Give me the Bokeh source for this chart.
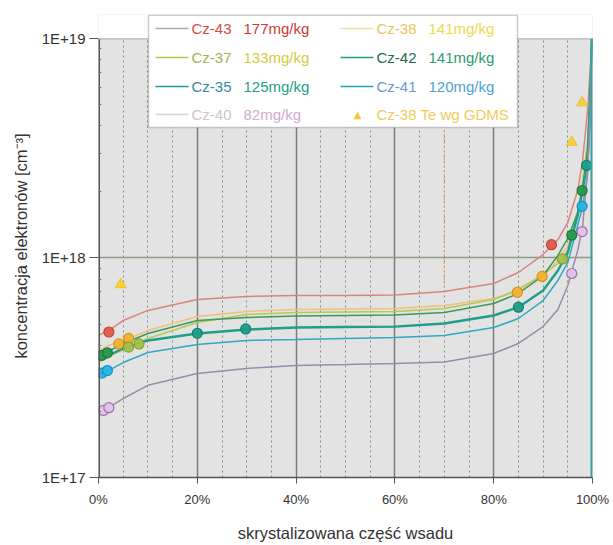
from bokeh.plotting import figure
from bokeh.models import (FixedTicker, CustomJSTickFormatter, Label,
                          BoxAnnotation, Range1d)
from bokeh.embed import file_html
from bokeh.resources import INLINE

E17 = 1e17  # values below are given in units of 1E+17 cm^-3

# fitted curves: crystallised fraction [%] -> electron concentration
fit_x = [0, 2, 5, 10, 20, 30, 40, 50, 60, 70, 80, 85, 90, 93, 95, 97, 98, 99, 99.5, 99.9]
fit_cz43 = [4.44, 4.67, 5.19, 5.77, 6.47, 6.68, 6.75, 6.75, 6.78, 7.04, 7.65, 8.59, 10.37, 12.14, 14.51, 20.3, 27.8, 47.0, 70.0, 100]
fit_cz38 = [3.79, 3.99, 4.21, 4.67, 5.41, 5.71, 5.83, 5.86, 5.89, 6.08, 6.54, 7.04, 8.24, 9.74, 11.4, 16.46, 22.55, 34.3, 58.0, 100]
fit_cz37 = [3.34, 3.56, 3.83, 4.30, 5.08, 5.53, 5.65, 5.68, 5.71, 5.89, 6.47, 7.19, 8.41, 9.44, 10.82, 15.79, 21.62, 33.2, 56.8, 100]
fit_cz42 = [3.52, 3.75, 4.08, 4.53, 5.19, 5.36, 5.44, 5.47, 5.50, 5.65, 6.20, 6.89, 8.32, 10.27, 12.27, 16.12, 20.73, 30.9, 55.0, 100]
fit_cz35 = [3.41, 3.60, 3.87, 4.21, 4.53, 4.72, 4.82, 4.85, 4.87, 5.03, 5.47, 5.97, 7.11, 8.77, 10.59, 15.62, 20.3, 27.8, 52.2, 100]
fit_cz41 = [2.95, 3.07, 3.34, 3.71, 4.04, 4.21, 4.25, 4.30, 4.34, 4.44, 4.82, 5.30, 6.40, 7.90, 9.54, 14.06, 17.17, 23.8, 47.0, 100]
fit_cz40 = [1.98, 2.08, 2.29, 2.63, 2.98, 3.14, 3.24, 3.27, 3.31, 3.36, 3.67, 4.08, 4.87, 5.83, 7.49, 10.82, 13.9, 25.0, 42.3, 100]

# measured points
pts_cz43_x = [2.1, 91.7]
pts_cz43_y = [4.60, 11.5]
pts_cz38_x = [4.1, 6.1, 84.8, 89.8]
pts_cz38_y = [4.06, 4.30, 6.98, 8.24]
pts_cz37_x = [6.1, 8.2, 93.9]
pts_cz37_y = [3.93, 4.06, 9.9]
pts_cz42_x = [0.7, 1.8, 95.8, 97.9]
pts_cz42_y = [3.60, 3.70, 12.7, 20.3]
pts_cz35_x = [20.0, 29.8, 85.0, 98.8]
pts_cz35_y = [4.54, 4.75, 5.97, 26.4]
pts_cz41_x = [0.7, 1.8, 97.9]
pts_cz41_y = [2.99, 3.07, 17.2]
pts_cz40_x = [1.0, 2.1, 95.8, 97.9]
pts_cz40_y = [2.02, 2.08, 8.5, 13.2]
gdms_x = [4.5, 95.8, 97.9]
gdms_y = [7.57, 33.7, 51.0]

# guide line at 70 %
guide_x = [70, 70]
guide_y = [7.0, 100]

x_ticks = [0, 20, 40, 60, 80, 100]
y_ticks = [1e17, 1e18, 1e19]
y_lo, y_hi = 1e17, 1e19
# the frame reaches a little above 1E+19 so the legend box can overhang the plot
y_frame_top = 10 ** 19.1093

FONT = "Liberation Sans"

p = figure(width=613, height=545, x_range=Range1d(0, 100), y_range=Range1d(y_lo, y_frame_top),
           y_axis_type="log", output_backend="svg", toolbar_location=None,
           min_border_left=98, min_border_right=21, min_border_top=14, min_border_bottom=68)
p.background_fill_color = "#e3e3e3"
p.border_fill_color = "white"
p.outline_line_color = None

# grid
p.xgrid.ticker = FixedTicker(ticks=[20, 40, 60, 80],
                             minor_ticks=[v for v in range(5, 100, 5) if v % 20])
p.xgrid.grid_line_color = "#7c7c7c"
p.xgrid.grid_line_width = 1.5
p.xgrid.minor_grid_line_color = "#8a8a8a"
p.xgrid.minor_grid_line_dash = "2 3"
p.xgrid.minor_grid_line_width = 1
p.ygrid.ticker = FixedTicker(ticks=[1e18])
p.ygrid.grid_line_color = "#8d9a84"
p.ygrid.grid_line_width = 1.5

# axes
p.xaxis.ticker = FixedTicker(ticks=x_ticks)
p.xaxis.formatter = CustomJSTickFormatter(code="return tick.toFixed(0) + '%';")
p.yaxis.ticker = FixedTicker(ticks=y_ticks,
                             minor_ticks=[k * 10 ** e for e in (17, 18) for k in range(2, 10)])
p.yaxis.formatter = CustomJSTickFormatter(code="return '1E+' + Math.round(Math.log10(tick));")
p.xaxis.axis_label = "skrystalizowana część wsadu"
p.yaxis.axis_label = "koncentracja elektronów [cm⁻³]"
for ax in (p.xaxis[0], p.yaxis[0]):
    ax.axis_line_color = "#555555"
    ax.axis_line_width = 1.5
    ax.major_tick_line_color = "#555555"
    ax.minor_tick_line_color = "#777777"
    ax.major_tick_in = 0
    ax.major_label_text_font = FONT
    ax.major_label_text_color = "#333333"
    ax.axis_label_text_font = FONT
    ax.axis_label_text_font_style = "normal"
    ax.axis_label_text_color = "#333333"
p.yaxis.axis_line_color = None
p.xaxis.major_tick_out = 6
p.xaxis.minor_tick_in = 0
p.xaxis.minor_tick_out = 0
p.xaxis.major_label_text_font_size = "13px"
p.xaxis.major_label_standoff = 8
p.xaxis.axis_label_standoff = 14
p.xaxis.axis_label_text_font_size = "16.5px"
p.yaxis.major_tick_out = 9
p.yaxis.minor_tick_in = 3
p.yaxis.minor_tick_out = 0
p.yaxis.major_label_text_font_size = "15px"
p.yaxis.major_label_standoff = 4
p.yaxis.axis_label_standoff = 9
p.yaxis.axis_label_text_font_size = "16.5px"

p.line(guide_x, [v * E17 for v in guide_y], line_color="#e8a838", line_dash="2 2", line_width=1.2)

series = [
    ("Cz-43", fit_cz43, pts_cz43_x, pts_cz43_y, "#d9867a", 1.5, "#e0584a", "#c04436"),
    ("Cz-38", fit_cz38, pts_cz38_x, pts_cz38_y, "#eec27a", 1.5, "#f2b233", "#d49418"),
    ("Cz-37", fit_cz37, pts_cz37_x, pts_cz37_y, "#b8c850", 1.5, "#a5c14a", "#86a030"),
    ("Cz-42", fit_cz42, pts_cz42_x, pts_cz42_y, "#3a9a5a", 1.5, "#27994e", "#1a7a3a"),
    ("Cz-35", fit_cz35, pts_cz35_x, pts_cz35_y, "#1f9e8a", 2.4, "#1a9e8c", "#11806e"),
    ("Cz-41", fit_cz41, pts_cz41_x, pts_cz41_y, "#2fa9c4", 1.5, "#28b4e6", "#1890c0"),
    ("Cz-40", fit_cz40, pts_cz40_x, pts_cz40_y, "#9d8aab", 1.5, "#e2c2ea", "#a070b0"),
]
for name, fy, px, py, lc, lw, mc, mlc in series:
    p.line(fit_x, [v * E17 for v in fy], line_color=lc, line_width=lw)
for name, fy, px, py, lc, lw, mc, mlc in series:
    p.scatter(px, [v * E17 for v in py], size=10, marker="circle",
              fill_color=mc, line_color=mlc, line_width=1.2, fill_alpha=0.95)
p.scatter(gdms_x, [v * E17 for v in gdms_y], size=11, marker="triangle",
          fill_color="#f6d03a", line_color="#f0c030")

# plot-area edges: left axis line, right teal edge, top edge at 1E+19
p.line([0, 0], [y_lo, y_hi], line_color="#555555", line_width=3)
p.line([100, 100], [y_lo, y_hi], line_color="#3a9fa0", line_width=4)

# white strip above 1E+19
p.add_layout(BoxAnnotation(bottom=y_hi, fill_color="white", fill_alpha=1.0, line_alpha=0))
p.line([0, 100], [y_hi, y_hi], line_color="#8a8a8a", line_width=1.5)

# legend box (screen coordinates relative to the frame: x from left, y from bottom)
FL, FB = 98, 477


def sx(cx):
    return cx - FL


def sy(cy):
    return FB - cy


p.add_layout(BoxAnnotation(left=sx(148), right=sx(517), top=sy(14.8), bottom=sy(127),
                           left_units="screen", right_units="screen",
                           top_units="screen", bottom_units="screen",
                           fill_color="white", fill_alpha=1.0,
                           line_color="#555555", line_width=1.5))

legend_rows = [
    # (line start x, row y, line colour, name, name colour, value, value colour)
    (155, 28, "#b4aaaa", "Cz-43", "#d84a44", "177mg/kg", "#cc3a36"),
    (340, 28, "#ece4a0", "Cz-38", "#ecc45a", "141mg/kg", "#ecdc4c"),
    (155, 57, "#b8c840", "Cz-37", "#a8b058", "133mg/kg", "#d4cc40"),
    (340, 57, "#1fa07e", "Cz-42", "#1e6a58", "141mg/kg", "#2a9e6c"),
    (155, 86, "#1898a8", "Cz-35", "#3888a8", "125mg/kg", "#1fa088"),
    (340, 86, "#22a2b4", "Cz-41", "#6c98cc", "120mg/kg", "#4ea2d4"),
    (155, 114, "#d6d6d6", "Cz-40", "#d2c2d2", "82mg/kg", "#d2aad2"),
]
for lx, ly, lcol, name, ncol, val, vcol in legend_rows:
    p.add_layout(BoxAnnotation(left=sx(lx), right=sx(lx + 33), top=sy(ly - 0.8), bottom=sy(ly + 0.8),
                               left_units="screen", right_units="screen",
                               top_units="screen", bottom_units="screen",
                               fill_color=lcol, fill_alpha=1.0, line_alpha=0))
    vx = 243 if lx < 300 else 428
    p.add_layout(Label(x=sx(lx + 36), y=sy(ly), x_units="screen", y_units="screen", text=name,
                       text_color=ncol, text_font=FONT, text_font_size="15px",
                       text_baseline="middle", text_align="left"))
    p.add_layout(Label(x=sx(vx), y=sy(ly), x_units="screen", y_units="screen", text=val,
                       text_color=vcol, text_font=FONT, text_font_size="15px",
                       text_baseline="middle", text_align="left"))

p.add_layout(Label(x=sx(357), y=sy(114), x_units="screen", y_units="screen", text="▲",
                   text_color="#f2c640", text_font="DejaVu Sans", text_font_size="10px",
                   text_baseline="middle", text_align="center"))
p.add_layout(Label(x=sx(376), y=sy(114), x_units="screen", y_units="screen",
                   text="Cz-38 Te wg GDMS", text_color="#f0cc5a", text_font=FONT,
                   text_font_size="15px", text_baseline="middle", text_align="left"))

open("out.html", "w").write(file_html(p, INLINE))
